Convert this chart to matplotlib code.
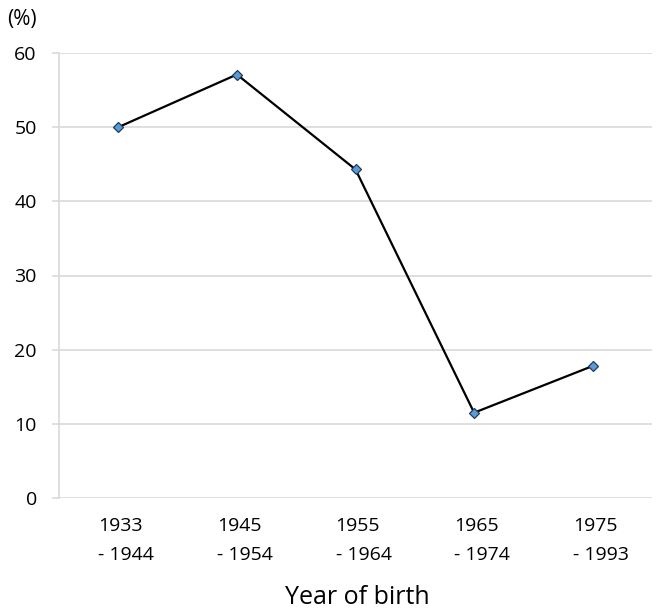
import matplotlib
matplotlib.use("Agg")
import matplotlib.pyplot as plt
import matplotlib.transforms as mtransforms

categories = ["1933\n- 1944", "1945\n- 1954", "1955\n- 1964", "1965\n- 1974", "1975\n- 1993"]
values = [50.0, 57.1, 44.3, 11.5, 17.8]
yticks = [0, 10, 20, 30, 40, 50, 60]

plt.rcParams['font.family'] = ['Open Sans', 'DejaVu Sans']

fig = plt.figure(figsize=(6.6, 6.14), dpi=100)
ax = fig.add_axes([59/660, 116/614, 593/660, 445/614])

x = list(range(len(categories)))
ax.plot(x, values, color='black', lw=1.6, marker='D', markersize=5.5,
        markerfacecolor='#5b9bd5', markeredgecolor='#1f3a5f', markeredgewidth=0.9, zorder=3)

ax.set_xlim(-0.5, len(categories) - 0.5)
ax.set_ylim(0, 60)
ax.set_yticks(yticks)
ax.set_yticklabels([str(v) for v in yticks], fontsize=14)
ax.grid(axis='y', color='#d9d9d9', lw=1.2)
ax.set_axisbelow(True)
for s in ['top', 'right', 'bottom']:
    ax.spines[s].set_visible(False)
ax.spines['left'].set_color('#d9d9d9')
ax.spines['left'].set_linewidth(1.2)
ax.tick_params(axis='y', length=5, width=1.2, color='#d9d9d9', pad=11, labelcolor='black')
ax.tick_params(axis='x', length=0, pad=14)

ax.set_xticks(x)
ax.set_xticklabels(categories, fontsize=14, ha='left', linespacing=1.75)
offset = mtransforms.ScaledTranslation(-20/100, 0, fig.dpi_scale_trans)
for lbl in ax.get_xticklabels():
    lbl.set_transform(lbl.get_transform() + offset)

fig.text(7/660, 1 - 20/614, "(%)", fontsize=15, ha='left', va='center')
fig.text(357/660, 1 - 597/614, "Year of birth", fontsize=18, ha='center', va='center')

fig.savefig("out.png", dpi=100)
